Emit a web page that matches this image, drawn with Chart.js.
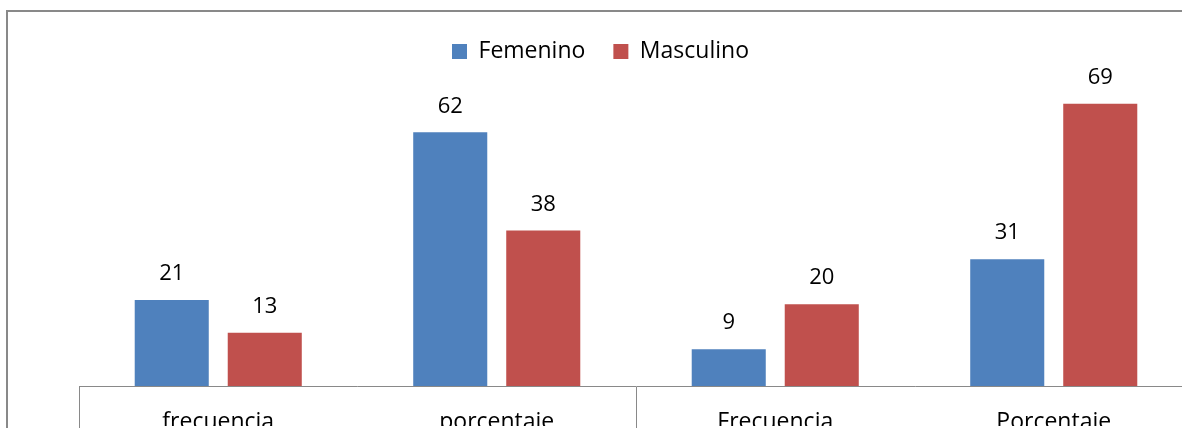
<!DOCTYPE html>
<html lang="es">
<head>
  <meta charset="UTF-8">
  <title>Femenino / Masculino</title>
  <script src="https://cdn.jsdelivr.net/npm/chart.js"></script>
  <style>
    html, body { margin: 0; padding: 0; background: #fff; overflow: hidden; }
    #marco {
      position: absolute; left: 6px; top: 10px;
      width: 1186px; height: 440px;
      border: 2px solid #898989;
    }
  </style>
</head>
<body>
  <div id="marco"><canvas id="grafico"></canvas></div>

  <script>
    const categorias = ['frecuencia', 'porcentaje', 'Frecuencia', 'Porcentaje'];
    const femenino = [21, 62, 9, 31];
    const masculino = [13, 38, 20, 69];
    const yMax = 76.5;

    const familia = "'Open Sans', 'Noto Sans', sans-serif";
    const fuente = { family: familia, size: 23 };
    const fuenteValores = { family: familia, size: 22 };

    // etiquetas encima de cada barra
    const etiquetas = {
      id: 'etiquetas',
      afterDatasetsDraw(chart) {
        const ctx = chart.ctx;
        ctx.save();
        ctx.font = `${fuenteValores.size}px ${fuenteValores.family}`;
        ctx.fillStyle = '#000';
        ctx.textAlign = 'center';
        ctx.textBaseline = 'middle';
        chart.data.datasets.forEach((ds, i) => {
          chart.getDatasetMeta(i).data.forEach((bar, j) => {
            ctx.fillText(ds.data[j], bar.x, bar.y - 26);
          });
        });
        ctx.restore();
      }
    };

    new Chart(document.getElementById('grafico'), {
      type: 'bar',
      data: {
        labels: categorias,
        datasets: [
          { label: 'Femenino', data: femenino, backgroundColor: '#4F81BD' },
          { label: 'Masculino', data: masculino, backgroundColor: '#C0504D' }
        ]
      },
      options: {
        responsive: true,
        maintainAspectRatio: false,
        animation: false,
        categoryPercentage: 0.668,
        barPercentage: 0.796,
        layout: { padding: { left: 0, right: 1, top: 0, bottom: 26 } },
        plugins: {
          legend: {
            position: 'top',
            labels: {
              color: '#000',
              font: fuente,
              boxWidth: 15,
              boxHeight: 15,
              padding: 28
            }
          },
          tooltip: { enabled: false }
        },
        scales: {
          x: {
            offset: true,
            grid: {
              offset: true,
              drawOnChartArea: false,
              drawTicks: true,
              tickLength: 60,
              color: c => (c.index % 2 === 0 ? '#898989' : 'rgba(0,0,0,0)')
            },
            border: { display: true, color: '#898989', width: 1 },
            ticks: { color: '#000', font: fuente, padding: -37, maxRotation: 0 },
            afterFit(scale) { scale.height = 40; }
          },
          y: {
            display: true,
            min: 0,
            max: yMax,
            grid: { display: false },
            border: { display: false },
            ticks: { display: false },
            afterFit(scale) { scale.width = 71; }
          }
        }
      },
      plugins: [etiquetas]
    });
  </script>
</body>
</html>
